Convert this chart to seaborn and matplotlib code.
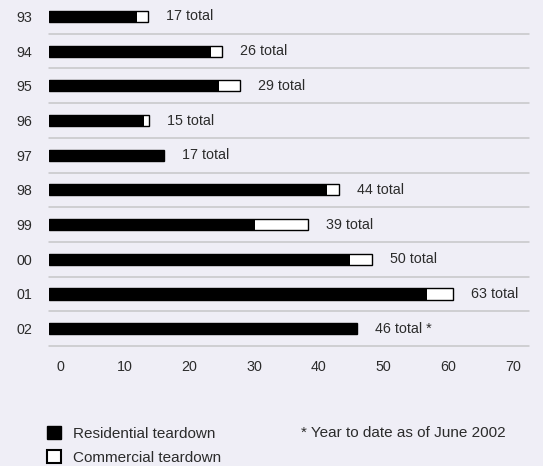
import matplotlib
matplotlib.use("Agg")
import matplotlib.pyplot as plt
import matplotlib.patches as mpatches
from matplotlib.transforms import ScaledTranslation
import seaborn as sns

years = ["93", "94", "95", "96", "97", "98", "99", "00", "01", "02"]
residential = [13.6, 25.0, 26.3, 14.7, 17.8, 43.0, 31.8, 46.5, 58.4, 47.6]
commercial = [1.7, 1.7, 3.2, 0.8, 0.0, 1.8, 8.2, 3.4, 4.0, 0.0]
total_labels = ["17 total", "26 total", "29 total", "15 total", "17 total",
                "44 total", "39 total", "50 total", "63 total", "46 total *"]
x_ticks = [0, 10, 20, 30, 40, 50, 60, 70]

totals = [r + c for r, c in zip(residential, commercial)]

bg = "#efeef6"
txt = "#2b2b2b"

sns.set_style("white", {"axes.facecolor": bg, "figure.facecolor": bg})
plt.rcParams["font.family"] = ["Liberation Sans", "DejaVu Sans"]

fig = plt.figure(figsize=(5.43, 4.66), dpi=100)
ax = fig.add_axes([49 / 543, 120 / 466, 480 / 543, 346 / 466])

# white total bar underneath, black residential part on top
sns.barplot(x=totals, y=years, orient="h", color="white", edgecolor="black",
            linewidth=1.0, width=0.32, saturation=1, ax=ax)
sns.barplot(x=residential, y=years, orient="h", color="black", linewidth=0,
            width=0.32, saturation=1, ax=ax)

for i in range(len(years)):
    ax.axhline(i + 0.5, color="#c6c6c8", lw=1.1, zorder=0, clip_on=False)

for i, (t, lab) in enumerate(zip(totals, total_labels)):
    ax.annotate(lab, xy=(t, i), xytext=(13, 0), textcoords="offset points",
                va="center", ha="left", fontsize=10.3, color=txt)

ax.set_xlim(0, 74.2)
ax.set_ylim(9.5, -0.474)
ax.set_xticks(x_ticks)
ax.set_xlabel("")
ax.set_ylabel("")
ax.tick_params(axis="both", length=0, labelsize=10.3, labelcolor=txt)
ax.tick_params(axis="x", pad=10)
ax.tick_params(axis="y", pad=12)
for lab in ax.get_xticklabels():
    lab.set_transform(lab.get_transform() + ScaledTranslation(11 / 100, 0, fig.dpi_scale_trans))
for s in ax.spines.values():
    s.set_visible(False)

handles = [mpatches.Patch(facecolor="black", edgecolor="black", label="Residential teardown"),
           mpatches.Patch(facecolor="white", edgecolor="black", linewidth=1.5, label="Commercial teardown")]
fig.legend(handles=handles, loc="upper left", bbox_to_anchor=(47 / 543, 1 - 426 / 466),
           frameon=False, fontsize=11, handlelength=0.92, handleheight=0.92,
           handletextpad=0.78, borderpad=0, borderaxespad=0, labelspacing=0.62,
           labelcolor=txt)

fig.text(301 / 543, 1 - 433 / 466, "* Year to date as of June 2002", va="center",
         ha="left", fontsize=11, color=txt)

fig.savefig("out.png", dpi=100, facecolor=bg)
